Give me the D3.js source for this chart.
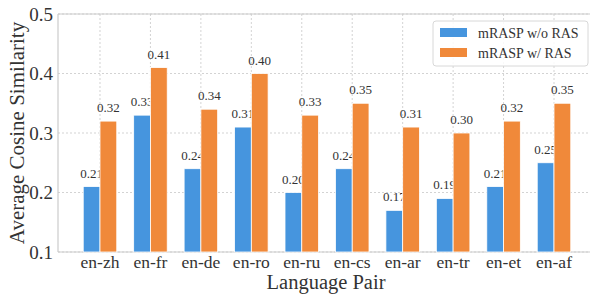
<!DOCTYPE html>
<html>
<head>
<meta charset="utf-8">
<script src="https://cdn.jsdelivr.net/npm/d3@7"></script>
<style>
  body { margin: 0; background: #fff; }
  svg text { font-family: "Liberation Serif", "Times New Roman", "DejaVu Serif", serif; }
  .grid line { stroke: #c8c8c8; stroke-dasharray: 2,2; stroke-width: 0.8; }
</style>
</head>
<body>
<svg width="590" height="294"></svg>
<script>
// data
let pairs = ["en-zh", "en-fr", "en-de", "en-ro", "en-ru", "en-cs", "en-ar", "en-tr", "en-et", "en-af"];
let withoutRAS = [0.21, 0.33, 0.24, 0.31, 0.20, 0.24, 0.17, 0.19, 0.21, 0.25];
let withRAS = [0.32, 0.41, 0.34, 0.40, 0.33, 0.35, 0.31, 0.30, 0.32, 0.35];
let seriesNames = ["mRASP w/o RAS", "mRASP w/ RAS"];
let yTicks = [0.1, 0.2, 0.3, 0.4, 0.5];

let colors = ["#4695de", "#f0893a"];

let svg = d3.select("svg"),
    margin = {top: 14, right: -6, bottom: 42, left: 58},
    width = +svg.attr("width") - margin.left - margin.right,
    height = +svg.attr("height") - margin.top - margin.bottom;

let x = d3.scaleBand().domain(pairs).range([0, width]).paddingInner(0.335).paddingOuter(0.5);
let x1 = d3.scaleBand().domain([0, 1]).range([0, x.bandwidth()]);
let y = d3.scaleLinear().domain([0.1, 0.5]).range([height, 0]);

let g = svg.append("g")
    .attr("transform", "translate(" + margin.left + "," + margin.top + ")");

// grid lines
g.append("g").attr("class", "grid")
  .selectAll("line").data(yTicks).enter().append("line")
  .attr("x1", 0).attr("x2", width)
  .attr("y1", d => y(d)).attr("y2", d => y(d));
g.append("g").attr("class", "grid")
  .selectAll("line").data(pairs).enter().append("line")
  .attr("x1", d => x(d) + x.bandwidth() / 2).attr("x2", d => x(d) + x.bandwidth() / 2)
  .attr("y1", 0).attr("y2", height);

// spines
g.append("line").attr("x1", 0).attr("x2", 0).attr("y1", 0).attr("y2", height)
  .attr("stroke", "#cccccc").attr("stroke-width", 1.2);
g.append("line").attr("x1", 0).attr("x2", width).attr("y1", 0).attr("y2", 0)
  .attr("stroke", "#cccccc").attr("stroke-width", 1.2);
g.append("line").attr("x1", 0).attr("x2", width).attr("y1", height).attr("y2", height)
  .attr("stroke", "#cccccc").attr("stroke-width", 1.2);

// bars
let series = [withoutRAS, withRAS];
series.forEach(function(vals, s) {
  let bars = g.append("g");
  bars.selectAll("rect").data(vals).enter().append("rect")
    .attr("x", (d, i) => x(pairs[i]) + x1(s))
    .attr("width", x1.bandwidth())
    .attr("y", d => y(d))
    .attr("height", d => y(0.1) - y(d))
    .attr("fill", colors[s])
    .attr("stroke", "#ffffff")
    .attr("stroke-width", 0.8);
  bars.selectAll("text").data(vals).enter().append("text")
    .attr("x", (d, i) => x(pairs[i]) + x1(s) + x1.bandwidth() / 2)
    .attr("y", d => y(d) - 9)
    .attr("text-anchor", "middle")
    .attr("font-size", 13)
    .attr("fill", "#333")
    .text(d => d.toFixed(2));
});

// y tick labels
g.append("g").selectAll("text").data(yTicks).enter().append("text")
  .attr("x", -5).attr("y", d => y(d))
  .attr("dy", "0.35em")
  .attr("text-anchor", "end")
  .attr("font-size", 19)
  .attr("fill", "#333")
  .text(d => d.toFixed(1));

// x tick labels
g.append("g").selectAll("text").data(pairs).enter().append("text")
  .attr("x", d => x(d) + x.bandwidth() / 2)
  .attr("y", height + 16)
  .attr("text-anchor", "middle")
  .attr("font-size", 17.5)
  .attr("fill", "#333")
  .text(d => d);

// axis titles
svg.append("text")
  .attr("x", margin.left + 268).attr("y", 289)
  .attr("text-anchor", "middle")
  .attr("font-size", 20.5)
  .attr("fill", "#333")
  .text("Language Pair");
svg.append("text")
  .attr("transform", "translate(24," + (margin.top + height / 2) + ") rotate(-90)")
  .attr("text-anchor", "middle")
  .attr("font-size", 21)
  .attr("fill", "#333")
  .text("Average Cosine Similarity");

// legend
let legend = svg.append("g").attr("transform", "translate(433,21)");
legend.append("rect")
  .attr("width", 155).attr("height", 45).attr("rx", 3)
  .attr("fill", "#fff").attr("fill-opacity", 0.85)
  .attr("stroke", "#d8d8d8");
seriesNames.forEach(function(name, i) {
  legend.append("rect")
    .attr("x", 7).attr("y", 7 + i * 20)
    .attr("width", 27).attr("height", 9)
    .attr("fill", colors[i]);
  legend.append("text")
    .attr("x", 45).attr("y", 12 + i * 20)
    .attr("dy", "0.35em")
    .attr("font-size", 14)
    .attr("fill", "#333")
    .text(name);
});
</script>
</body>
</html>
